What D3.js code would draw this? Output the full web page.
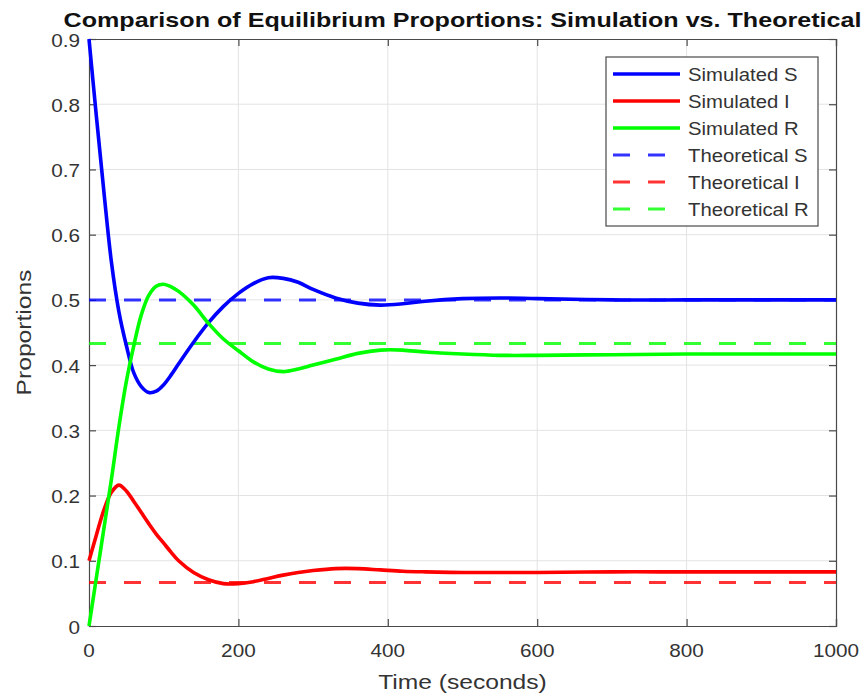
<!DOCTYPE html>
<html>
<head>
<meta charset="utf-8">
<script src="https://cdn.jsdelivr.net/npm/d3@7"></script>
<style>
  body { margin: 0; background: #fff; }
  text { font-family: "Liberation Sans", Arial, sans-serif; }
</style>
</head>
<body>
<div id="chart"></div>
<script>
// time samples (seconds)
var time = [0, 10, 20, 30, 40, 50, 60, 70, 80, 90, 100, 110, 120, 140, 160, 180, 200, 220, 240, 260, 280, 300, 330, 360, 390, 420, 450, 500, 550, 600, 700, 800, 900, 1000];
var simS = [0.9, 0.78, 0.665, 0.558, 0.482, 0.43, 0.388, 0.367, 0.358, 0.36, 0.37, 0.385, 0.402, 0.435, 0.465, 0.49, 0.51, 0.525, 0.534, 0.533, 0.527, 0.516, 0.503, 0.495, 0.492, 0.494, 0.498, 0.502, 0.503, 0.502, 0.5, 0.5, 0.5, 0.5];
var simI = [0.1, 0.14, 0.178, 0.205, 0.216, 0.207, 0.191, 0.174, 0.157, 0.141, 0.127, 0.113, 0.1, 0.082, 0.071, 0.065, 0.065, 0.068, 0.073, 0.078, 0.082, 0.085, 0.088, 0.088, 0.086, 0.084, 0.083, 0.082, 0.082, 0.082, 0.083, 0.083, 0.083, 0.083];
var simR = [0, 0.075, 0.15, 0.225, 0.305, 0.375, 0.43, 0.477, 0.507, 0.521, 0.524, 0.52, 0.513, 0.492, 0.464, 0.44, 0.422, 0.405, 0.394, 0.39, 0.394, 0.4, 0.409, 0.418, 0.423, 0.423, 0.42, 0.417, 0.415, 0.415, 0.416, 0.417, 0.417, 0.417];
// theoretical equilibrium values
var theoS = 0.5;
var theoI = 0.0667;
var theoR = 0.4333;

var xTicks = [0, 200, 400, 600, 800, 1000];
var yTicks = [0, 0.1, 0.2, 0.3, 0.4, 0.5, 0.6, 0.7, 0.8, 0.9];

var labels = ["Simulated S", "Simulated I", "Simulated R", "Theoretical S", "Theoretical I", "Theoretical R"];

// how stuff looks
var width = 864, height = 698;
var margin = {left: 89, right: 28, top: 39, bottom: 72};
var axisColor = "#4a4a4a";
var textColor = "#333";
var gridColor = "#e3e3e3";
var colors = ["#0000ff", "#ff0000", "#00ff00"];
var simWidth = 3.6;
var theoWidth = 3;
var dash = "17,18";
var tickLen = 7;

// the reference text is drawn a bit wider than Liberation Sans, so stretch it
function stretch(sel, k) {
  sel.each(function() {
    var len = this.getComputedTextLength();
    d3.select(this)
        .attr("textLength", len * k)
        .attr("lengthAdjust", "spacingAndGlyphs");
  });
}

const x = d3.scaleLinear().domain([0, 1000]).range([margin.left, width - margin.right]);
const y = d3.scaleLinear().domain([0, 0.9]).range([height - margin.bottom, margin.top]);

const svg = d3.select("#chart").append("svg")
    .attr("width", width)
    .attr("height", height);

// grid
svg.append("g")
  .selectAll("line")
  .data(xTicks.slice(1, -1))
  .join("line")
    .attr("x1", d => x(d)).attr("x2", d => x(d))
    .attr("y1", y(0)).attr("y2", y(0.9))
    .attr("stroke", gridColor);

svg.append("g")
  .selectAll("line")
  .data(yTicks.slice(1, -1))
  .join("line")
    .attr("y1", d => y(d)).attr("y2", d => y(d))
    .attr("x1", x(0)).attr("x2", x(1000))
    .attr("stroke", gridColor);

// axes (ticks pointing inward, MATLAB style)
const xAxis = svg.append("g")
    .attr("transform", `translate(0,${y(0)})`)
    .call(d3.axisTop(x).tickValues(xTicks).tickSize(tickLen).tickFormat(""));
const xAxisTop = svg.append("g")
    .attr("transform", `translate(0,${y(0.9)})`)
    .call(d3.axisBottom(x).tickValues(xTicks).tickSize(tickLen).tickFormat(""));
const yAxis = svg.append("g")
    .attr("transform", `translate(${x(0)},0)`)
    .call(d3.axisRight(y).tickValues(yTicks).tickSize(tickLen).tickFormat(""));
const yAxisRight = svg.append("g")
    .attr("transform", `translate(${x(1000)},0)`)
    .call(d3.axisLeft(y).tickValues(yTicks).tickSize(tickLen).tickFormat(""));

[xAxis, xAxisTop, yAxis, yAxisRight].forEach(function(g) {
  g.selectAll("path, line").attr("stroke", axisColor).attr("stroke-width", 1.2);
});

// tick labels
svg.append("g")
  .selectAll("text")
  .data(xTicks)
  .join("text")
    .attr("x", d => x(d))
    .attr("y", y(0) + 31)
    .attr("text-anchor", "middle")
    .attr("font-size", 18.5)
    .attr("fill", textColor)
    .text(d => d)
    .call(stretch, 1.12);

svg.append("g")
  .selectAll("text")
  .data(yTicks)
  .join("text")
    .attr("x", x(0) - 9)
    .attr("y", d => y(d) + 7.5)
    .attr("text-anchor", "end")
    .attr("font-size", 18.5)
    .attr("fill", textColor)
    .text(d => d3.format("~g")(d))
    .call(stretch, 1.12);

// lines
const line = d3.line()
    .x(d => x(d[0]))
    .y(d => y(d[1]))
    .curve(d3.curveCatmullRom.alpha(0.5));

const plot = svg.append("g");

var theo = [theoS, theoI, theoR];
theo.forEach(function(v, i) {
  plot.append("line")
      .attr("x1", x(0)).attr("x2", x(1000))
      .attr("y1", y(v)).attr("y2", y(v))
      .attr("stroke", colors[i])
      .attr("stroke-opacity", 0.8)
      .attr("stroke-width", theoWidth)
      .attr("stroke-dasharray", dash);
});

[simS, simI, simR].forEach(function(series, i) {
  plot.append("path")
      .datum(time.map((t, j) => [t, series[j]]))
      .attr("fill", "none")
      .attr("stroke", colors[i])
      .attr("stroke-width", simWidth)
      .attr("stroke-linejoin", "round")
      .attr("d", line);
});

// title and axis labels
const cx = (x(0) + x(1000)) / 2;
const title = svg.append("text")
    .attr("x", cx)
    .attr("y", 27)
    .attr("text-anchor", "middle")
    .attr("font-size", 20.5)
    .attr("font-weight", "bold")
    .attr("fill", "#111")
    .text("Comparison of Equilibrium Proportions: Simulation vs. Theoretical");
title.attr("textLength", 798).attr("lengthAdjust", "spacingAndGlyphs");

svg.append("text")
    .attr("x", cx)
    .attr("y", 689)
    .attr("text-anchor", "middle")
    .attr("font-size", 20.5)
    .attr("fill", textColor)
    .text("Time (seconds)")
    .call(stretch, 1.2);

svg.append("text")
    .attr("transform", `translate(31,${(y(0) + y(0.9)) / 2}) rotate(-90)`)
    .attr("text-anchor", "middle")
    .attr("font-size", 20.5)
    .attr("fill", textColor)
    .text("Proportions")
    .call(stretch, 1.2);

// legend
const legend = svg.append("g").attr("transform", "translate(606,57)");
legend.append("rect")
    .attr("width", 212).attr("height", 169)
    .attr("fill", "#fff")
    .attr("stroke", axisColor)
    .attr("stroke-width", 1.2);

const item = legend.selectAll("g")
  .data(labels)
  .join("g")
    .attr("transform", (d, i) => `translate(0,${17 + i * 27})`);

item.append("line")
    .attr("x1", 7).attr("x2", 74)
    .attr("stroke", (d, i) => colors[i % 3])
    .attr("stroke-width", (d, i) => i < 3 ? simWidth : theoWidth)
    .attr("stroke-opacity", (d, i) => i < 3 ? 1 : 0.8)
    .attr("stroke-dasharray", (d, i) => i < 3 ? null : dash);

item.append("text")
    .attr("x", 82)
    .attr("y", 6.5)
    .attr("font-size", 17.5)
    .attr("fill", textColor)
    .text(d => d)
    .call(stretch, 1.16);
</script>
</body>
</html>
